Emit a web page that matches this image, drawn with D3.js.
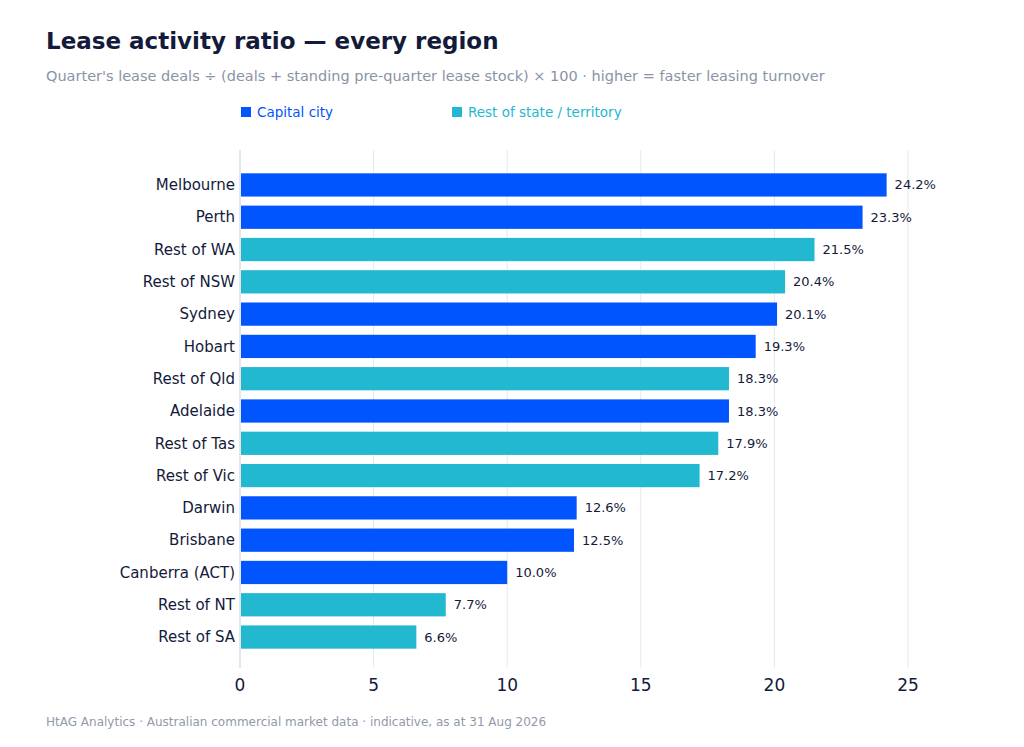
<!DOCTYPE html>
<html>
<head>
<meta charset="utf-8">
<script src="https://cdn.jsdelivr.net/npm/d3@7"></script>
<style>
  body { margin: 0; background: #fff; font-family: "DejaVu Sans", sans-serif; }
</style>
</head>
<body>
<div id="chart"></div>
<script>
// data
var regions = ["Melbourne", "Perth", "Rest of WA", "Rest of NSW", "Sydney", "Hobart", "Rest of Qld",
  "Adelaide", "Rest of Tas", "Rest of Vic", "Darwin", "Brisbane", "Canberra (ACT)", "Rest of NT", "Rest of SA"];
var ratios = [24.2, 23.3, 21.5, 20.4, 20.1, 19.3, 18.3, 18.3, 17.9, 17.2, 12.6, 12.5, 10.0, 7.7, 6.6];
var kinds = ["cap", "cap", "rest", "rest", "cap", "cap", "rest", "cap", "rest", "rest", "cap", "cap", "cap", "rest", "rest"];
var xTicks = [0, 5, 10, 15, 20, 25];

var w = 1024, h = 747;
var colors = { cap: "#0055ff", rest: "#22b8cf" };
var ink = "#141a3a";

var svg = d3.select("#chart").append("svg")
  .attr("width", w).attr("height", h)
  .style("font-family", "'DejaVu Sans', sans-serif");

var x = d3.scaleLinear().domain([0, 25]).range([240, 908]);
var y = d3.scaleBand().domain(regions).range([152, 670])
  .paddingInner(0.28).paddingOuter(0.66);

// title + subtitle
svg.append("text").attr("x", 46).attr("y", 49)
  .attr("font-size", 23).attr("font-weight", "bold").attr("fill", ink)
  .text("Lease activity ratio — every region");
svg.append("text").attr("x", 46).attr("y", 81)
  .attr("font-size", 14.5).attr("fill", "#8a93a6")
  .text("Quarter's lease deals ÷ (deals + standing pre-quarter lease stock) × 100 · higher = faster leasing turnover");

// legend
var legend = [{ k: "cap", label: "Capital city", x: 241 }, { k: "rest", label: "Rest of state / territory", x: 452 }];
legend.forEach(function(l) {
  svg.append("rect").attr("x", l.x).attr("y", 107).attr("width", 10).attr("height", 10).attr("fill", colors[l.k]);
  svg.append("text").attr("x", l.x + 16).attr("y", 116.5)
    .attr("font-size", 13.5).attr("fill", colors[l.k]).text(l.label);
});

// gridlines
svg.append("g").selectAll("line").data(xTicks.slice(1)).enter().append("line")
  .attr("x1", function(d) { return x(d); }).attr("x2", function(d) { return x(d); })
  .attr("y1", 150).attr("y2", 668)
  .attr("stroke", "#e6e8ee").attr("stroke-width", 1);

// left axis line
svg.append("line").attr("x1", 240).attr("x2", 240).attr("y1", 150).attr("y2", 668)
  .attr("stroke", "#c9cdd8").attr("stroke-width", 1);

// bars
var rows = regions.map(function(r, i) { return { region: r, v: ratios[i], k: kinds[i] }; });
svg.append("g").selectAll("rect").data(rows).enter().append("rect")
  .attr("x", x(0) + 1)
  .attr("y", function(d) { return y(d.region); })
  .attr("width", function(d) { return x(d.v) - x(0) - 1; })
  .attr("height", y.bandwidth())
  .attr("fill", function(d) { return colors[d.k]; });

// value labels
svg.append("g").selectAll("text").data(rows).enter().append("text")
  .attr("x", function(d) { return x(d.v) + 8; })
  .attr("y", function(d) { return y(d.region) + y.bandwidth() / 2; })
  .attr("dy", "0.35em")
  .attr("font-size", 13).attr("fill", ink)
  .text(function(d) { return d.v.toFixed(1) + "%"; });

// category labels
svg.append("g").selectAll("text").data(rows).enter().append("text")
  .attr("x", 235)
  .attr("y", function(d) { return y(d.region) + y.bandwidth() / 2; })
  .attr("dy", "0.35em").attr("text-anchor", "end")
  .attr("font-size", 15).attr("fill", ink)
  .text(function(d) { return d.region; });

// x tick labels
svg.append("g").selectAll("text").data(xTicks).enter().append("text")
  .attr("x", function(d) { return x(d); }).attr("y", 691)
  .attr("text-anchor", "middle").attr("font-size", 17).attr("fill", ink)
  .text(function(d) { return d; });

// footer
svg.append("text").attr("x", 46).attr("y", 726)
  .attr("font-size", 12).attr("fill", "#9299aa")
  .text("HtAG Analytics · Australian commercial market data · indicative, as at 31 Aug 2026");
</script>
</body>
</html>
